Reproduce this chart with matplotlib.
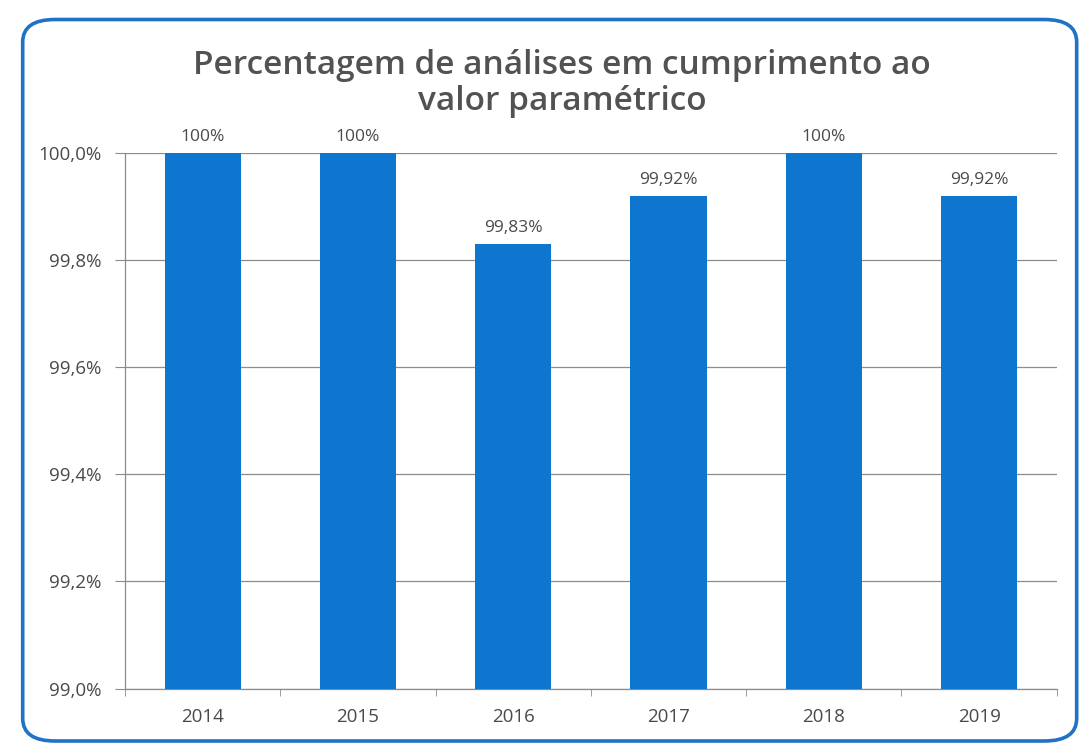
import matplotlib
matplotlib.use("Agg")
import matplotlib.pyplot as plt
from matplotlib.patches import FancyBboxPatch
from matplotlib.ticker import FuncFormatter, FixedLocator

years = ["2014", "2015", "2016", "2017", "2018", "2019"]
values = [100.0, 100.0, 99.83, 99.92, 100.0, 99.92]
value_labels = ["100%", "100%", "99,83%", "99,92%", "100%", "99,92%"]
y_ticks = [99.0, 99.2, 99.4, 99.6, 99.8, 100.0]
title = "Percentagem de análises em cumprimento ao\nvalor paramétrico"

bar_color = "#0f76cf"
text_color = "#4a4a4a"
grid_color = "#8c8c8c"

plt.rcParams["font.family"] = ["Open Sans", "DejaVu Sans"]

fig = plt.figure(figsize=(10.81, 7.5), dpi=100)
fig.patch.set_facecolor("white")

# Rounded chart frame
frame = FancyBboxPatch((0.021, 0.012), 0.975, 0.962,
                       boxstyle="round,pad=0,rounding_size=0.03",
                       transform=fig.transFigure, fill=False,
                       edgecolor="#1f72c4", linewidth=2.6, zorder=0)
fig.patches.append(frame)

ax = fig.add_axes([0.1156, 0.082, 0.862, 0.714])
x = range(len(years))
ax.bar(x, values, width=0.49, color=bar_color, zorder=3)
ax.set_xlim(-0.5, len(years) - 0.5)
ax.set_ylim(99.0, 100.0)

ax.yaxis.set_major_locator(FixedLocator(y_ticks))
ax.yaxis.set_major_formatter(FuncFormatter(lambda v, _: f"{v:.1f}%".replace(".", ",")))
ax.grid(axis="y", color=grid_color, linewidth=0.9, zorder=0)
ax.set_axisbelow(True)

ax.set_xticks(list(x))
ax.set_xticklabels(years)
ax.tick_params(axis="x", length=0, pad=14, labelsize=13.5, labelcolor=text_color)
ax.set_xticks([i + 0.5 for i in range(-1, len(years))], minor=True)
ax.tick_params(axis="x", which="minor", length=5, color=grid_color, direction="out")
ax.tick_params(axis="y", length=7, color=grid_color, pad=10, labelsize=13.5,
               labelcolor=text_color)

for side in ("top", "right"):
    ax.spines[side].set_visible(False)
for side in ("left", "bottom"):
    ax.spines[side].set_color(grid_color)
    ax.spines[side].set_linewidth(0.9)

for xi, v, lab in zip(x, values, value_labels):
    ax.annotate(lab, (xi, v), xytext=(0, 6), textcoords="offset points",
                ha="center", va="bottom", fontsize=12.5, color=text_color,
                annotation_clip=False)

fig.text(0.52, 0.842, title, ha="center", va="bottom", fontsize=24,
         fontweight="semibold", color="#525252", linespacing=1.15,
         family=["Open Sans", "DejaVu Sans"])

fig.savefig("out.png", dpi=100, facecolor="white")
